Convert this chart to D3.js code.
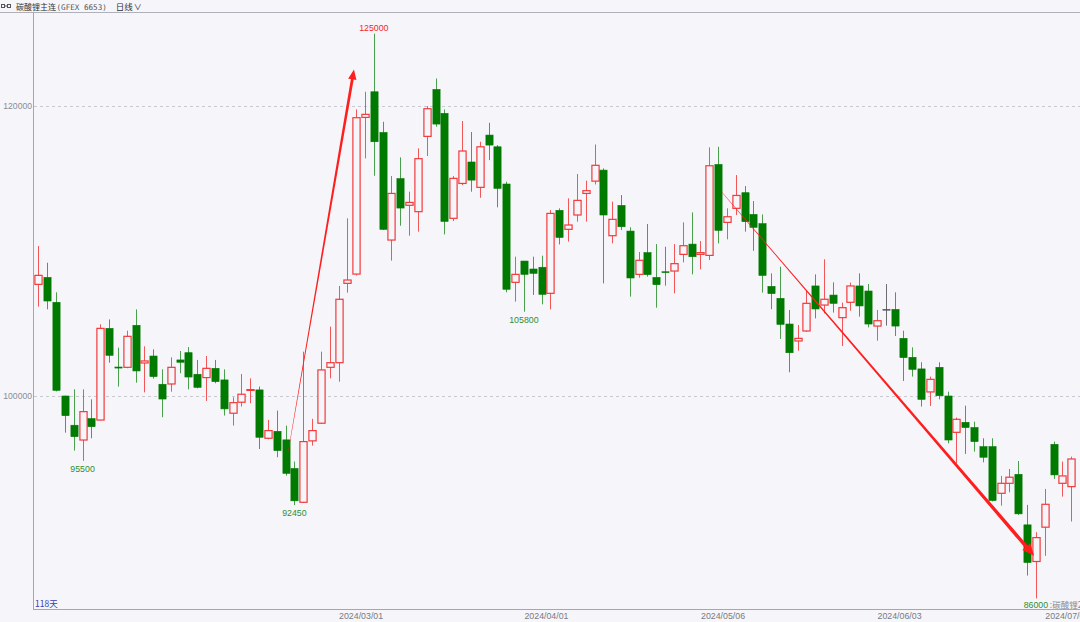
<!DOCTYPE html>
<html><head><meta charset="utf-8">
<script src="https://cdn.jsdelivr.net/npm/d3@7"></script>
<style>
html,body{margin:0;padding:0;background:#f5f5fa;}
svg{display:block;}
</style></head>
<body>
<svg id="c" width="1080" height="622"></svg>
<script>
// ---- data ----
const opens  = [107690,108170,106450,99980,97960,96940,98420,98320,104650,101980,101960,104860,102260,102740,100790,100810,102470,102970,101480,101250,101890,101090,98790,99550,100380,100400,97060,97540,96950,94970,92640,96880,98100,101960,102280,107760,108400,119220,120990,118180,110750,114990,113150,112710,117910,121150,119500,112250,114660,116140,114390,118000,117190,114620,107830,109300,108750,108870,107070,112800,111490,112480,113970,114820,115580,111050,113140,111370,108380,109880,108170,108560,108610,109760,110470,109760,109690,115970,111970,112940,114020,112520,111880,107550,106720,104950,103780,104470,107580,106260,106950,105390,106450,107580,107230,104810,105960,105960,103960,102650,101850,100260,101960,99980,97470,98160,97800,96480,96480,93260,93950,94570,91080,88550,90920,96640,93950,93720];
const highs  = [110335,109185,107140,100000,100440,100440,99750,104930,105270,103320,104490,105960,103410,103200,101820,102650,103090,103360,102470,102740,102470,101820,99890,101500,101200,100630,98330,98970,97940,95450,103040,98400,103040,104770,107580,112250,119770,120990,125000,118920,115170,116460,114090,117080,120000,121910,119770,115170,118970,118210,117540,118850,117310,114780,109600,109300,109600,109670,112820,112940,113630,115310,114850,117350,115700,113400,113860,111630,109920,111860,110470,110290,110470,111970,112660,110680,117150,117190,112940,115240,114480,113440,112520,108450,108910,105920,104880,107300,108380,109420,107830,106430,107810,108450,107710,105920,107710,107140,104490,103340,102310,101320,102310,100280,98490,99310,98210,97060,97060,94460,94940,95490,92460,90570,93560,96830,95450,95790];
const lows   = [106150,105965,100300,97450,96210,95500,97060,98300,102280,100630,101900,100900,100230,101180,98510,100280,101550,100440,100510,99640,100860,98630,97940,99250,99480,96320,96990,95750,94480,92450,92600,96550,98050,101200,100970,107120,108300,116390,115190,111440,109330,111740,111050,111330,116550,118580,111140,112060,114550,114090,113670,116270,113010,107140,106500,105800,106960,106310,105960,110450,110640,112020,112020,114590,107760,110520,111440,106840,108150,108220,106080,107600,107070,109210,108380,108730,109370,110520,110800,112480,111330,110010,107120,105970,103920,101620,103110,104400,105340,105690,105740,103430,105870,105460,104720,103800,104840,104120,101020,101320,99250,99290,99750,96710,95330,95980,96140,95400,92700,92410,93330,91770,87580,86000,88940,94250,93030,91310];
const closes = [108310,106540,100370,98620,97170,98900,97860,104650,102790,101910,104100,101710,102400,101320,99770,101960,102310,101290,100580,101890,100970,99090,99520,100100,100420,97130,97590,96210,94640,92740,96830,97590,101780,102280,106660,107990,119200,119430,117540,111490,113970,112960,113350,116370,119820,118760,112040,115010,116900,114890,117190,117310,114320,107350,108380,108380,108450,107000,112590,110930,111790,113490,114160,115910,112480,112180,111670,108130,109350,108360,107670,108500,109120,110360,109600,109880,115880,111420,112360,113830,112020,111630,108310,107050,104930,102970,103960,106380,105990,106660,106380,106080,107580,106200,104950,105180,105960,104810,102630,101820,99750,101130,100000,96940,98370,97800,96830,95750,92760,93950,94370,91840,88480,90200,92500,94530,94460,95630];

const yTickValues = [100000, 120000];
const xTickIndex  = [36, 57, 77, 97, 116];
const xTickLabels = ["2024/03/01", "2024/04/01", "2024/05/06", "2024/06/03", "2024/07/01"];

// extreme value labels
const markIndex = [5, 29, 38, 55, 113];
const markValue = [95500, 92450, 125000, 105800, 86000];
const markKind  = ["low", "low", "high", "low", "low"];

// trend arrows: start [index, price] -> tip [index, price]
const arrowStart = [[28.3, 96130], [77.4, 114080]];
const arrowTip   = [[35.75, 122530], [112.8, 88950]];

const titleName = "碳酸锂主连";
const titleCode = "(GFEX 6653)";
const titlePeriod = "日线";
const dayCount = "118天";
const overlapText = ":碳酸锂2407";

// ---- drawing ----
const W = 1080, H = 622;
const padL = 34, padT = 12, padB = 610;
const svg = d3.select("#c");
const bg = "#f5f5fa";
const UP = "#f23a3a", DOWN = "#007a00", FLAT = "#555555";
const n = opens.length;

const x = d3.scaleLinear().domain([-0.5, n]).range([padL, W]);
const y = d3.scaleLinear().domain([85200, 126500]).range([padB, padT]);
const bodyW = 7.2;
const step = x(1) - x(0);

svg.append("rect").attr("width", W).attr("height", H).attr("fill", bg);

// grid lines
svg.append("g").selectAll("line").data(yTickValues).join("line")
  .attr("x1", padL).attr("x2", W)
  .attr("y1", d => Math.round(y(d)) + 0.5).attr("y2", d => Math.round(y(d)) + 0.5)
  .attr("stroke", "#c9c9d2").attr("stroke-dasharray", "3,3").attr("stroke-width", 1);

// y axis labels (left margin)
const yAxis = d3.axisLeft(y).tickValues(yTickValues).tickSize(0).tickPadding(2).tickFormat(d3.format("d"));
const gy = svg.append("g").attr("transform", `translate(${padL},0)`).call(yAxis);
gy.select(".domain").remove();
gy.selectAll("text").attr("font-family", "Liberation Sans, Arial, sans-serif").attr("font-size", 8.6).attr("fill", "#8c8c94");

// x axis labels (centred half a step after the candle)
const xAxis = d3.axisBottom(x).tickValues(xTickIndex).tickSize(0).tickPadding(3)
  .tickFormat((d, i) => xTickLabels[i]);
const gx = svg.append("g").attr("transform", `translate(${step / 2},${padB})`).call(xAxis);
gx.select(".domain").remove();
gx.selectAll("text").attr("font-family", "Liberation Sans, Arial, sans-serif").attr("font-size", 8.8).attr("fill", "#7a7a82");

// frame
svg.append("line").attr("x1", 0).attr("x2", W).attr("y1", padT + 0.5).attr("y2", padT + 0.5).attr("stroke", "#b0b0b8");
svg.append("line").attr("x1", padL - 0.5).attr("x2", padL - 0.5).attr("y1", padT).attr("y2", padB).attr("stroke", "#a6a6ae");
svg.append("line").attr("x1", padL - 0.5).attr("x2", W).attr("y1", padB - 0.5).attr("y2", padB - 0.5).attr("stroke", "#a6a6ae");

// candles
const idx = d3.range(n);
const colorOf = i => closes[i] > opens[i] ? UP : (closes[i] < opens[i] ? DOWN : FLAT);
const gc = svg.append("g");
gc.selectAll("line.wick").data(idx).join("line").attr("class", "wick")
  .attr("x1", i => Math.round(x(i)) + 0.5).attr("x2", i => Math.round(x(i)) + 0.5)
  .attr("y1", i => y(highs[i])).attr("y2", i => y(lows[i]))
  .attr("stroke", colorOf).attr("stroke-width", 1).attr("stroke-opacity", i => closes[i] < opens[i] ? 0.7 : 0.85);
gc.selectAll("rect.body").data(idx).join("rect").attr("class", "body")
  .attr("x", i => Math.round(x(i)) + 0.5 - bodyW / 2)
  .attr("width", bodyW)
  .attr("y", i => y(Math.max(opens[i], closes[i])))
  .attr("height", i => Math.max(0.8, Math.abs(y(opens[i]) - y(closes[i]))))
  .attr("fill", i => closes[i] > opens[i] ? bg : colorOf(i))
  .attr("stroke", colorOf).attr("stroke-width", i => closes[i] > opens[i] ? 1.2 : 0.6);

// arrows (tapered)
const ga = svg.append("g");
arrowStart.forEach((s, k) => {
  const p0 = [x(s[0]), y(s[1])], p1 = [x(arrowTip[k][0]), y(arrowTip[k][1])];
  const dx = p1[0] - p0[0], dy = p1[1] - p0[1], L = Math.hypot(dx, dy);
  const ux = dx / L, uy = dy / L, nx = -uy, ny = ux;
  const headL = k === 0 ? 10 : 12, headW = k === 0 ? 4.2 : 5.2, w0 = 0.3, w1 = k === 0 ? 2.8 : 3.6;
  const b = [p1[0] - ux * headL, p1[1] - uy * headL];
  const pts = [
    [p0[0] + nx * w0 / 2, p0[1] + ny * w0 / 2],
    [b[0] + nx * w1 / 2, b[1] + ny * w1 / 2],
    [b[0] + nx * headW, b[1] + ny * headW],
    p1,
    [b[0] - nx * headW, b[1] - ny * headW],
    [b[0] - nx * w1 / 2, b[1] - ny * w1 / 2],
    [p0[0] - nx * w0 / 2, p0[1] - ny * w0 / 2]
  ];
  ga.append("path").attr("d", d3.line()(pts) + "Z").attr("fill", "#ff1e1e");
});

// extreme labels
svg.append("g").selectAll("text").data(markIndex).join("text")
  .attr("x", i => x(i)).attr("text-anchor", "middle")
  .attr("y", (d, k) => markKind[k] === "high" ? y(markValue[k]) - 3 : Math.min(y(markValue[k]) + 11, padB - 2))
  .attr("font-family", "Liberation Sans, Arial, sans-serif").attr("font-size", 8.8)
  .attr("fill", (d, k) => markKind[k] === "high" ? "#f02828" : "#2f8f2f")
  .text((d, k) => markValue[k]);

// overlapping legend text at bottom right
svg.append("text").attr("x", x(113) + 14).attr("y", padB - 2)
  .attr("font-family", "Noto Sans CJK SC, sans-serif").attr("font-size", 8.5).attr("fill", "#8a8a92").text(overlapText);

// day count
svg.append("text").attr("x", padL + 1).attr("y", padB - 3)
  .attr("font-family", "Noto Sans CJK SC, sans-serif").attr("font-size", 8.5).attr("fill", "#3a3ab4").text(dayCount);

// header
const gh = svg.append("g");
gh.append("rect").attr("x", 1.5).attr("y", 4.5).attr("width", 3).attr("height", 3).attr("fill", "none").attr("stroke", "#555");
gh.append("rect").attr("x", 7.5).attr("y", 4.5).attr("width", 3).attr("height", 3).attr("fill", "none").attr("stroke", "#555");
gh.append("line").attr("x1", 4.5).attr("x2", 7.5).attr("y1", 6).attr("y2", 6).attr("stroke", "#555");
const ht = gh.append("text").attr("x", 16).attr("y", 9.5).attr("font-family", "Noto Sans CJK SC, sans-serif").attr("fill", "#333");
ht.append("tspan").attr("font-size", 8).text(titleName);
ht.append("tspan").attr("font-size", 7.6).attr("font-family", "DejaVu Sans Mono, monospace").attr("dx", 0.5).attr("fill", "#555").text(titleCode);
ht.append("tspan").attr("font-size", 8.5).attr("dx", 9).text(titlePeriod);
ht.append("tspan").attr("font-size", 8).attr("dx", 1).text("∨");
</script>
</body></html>
